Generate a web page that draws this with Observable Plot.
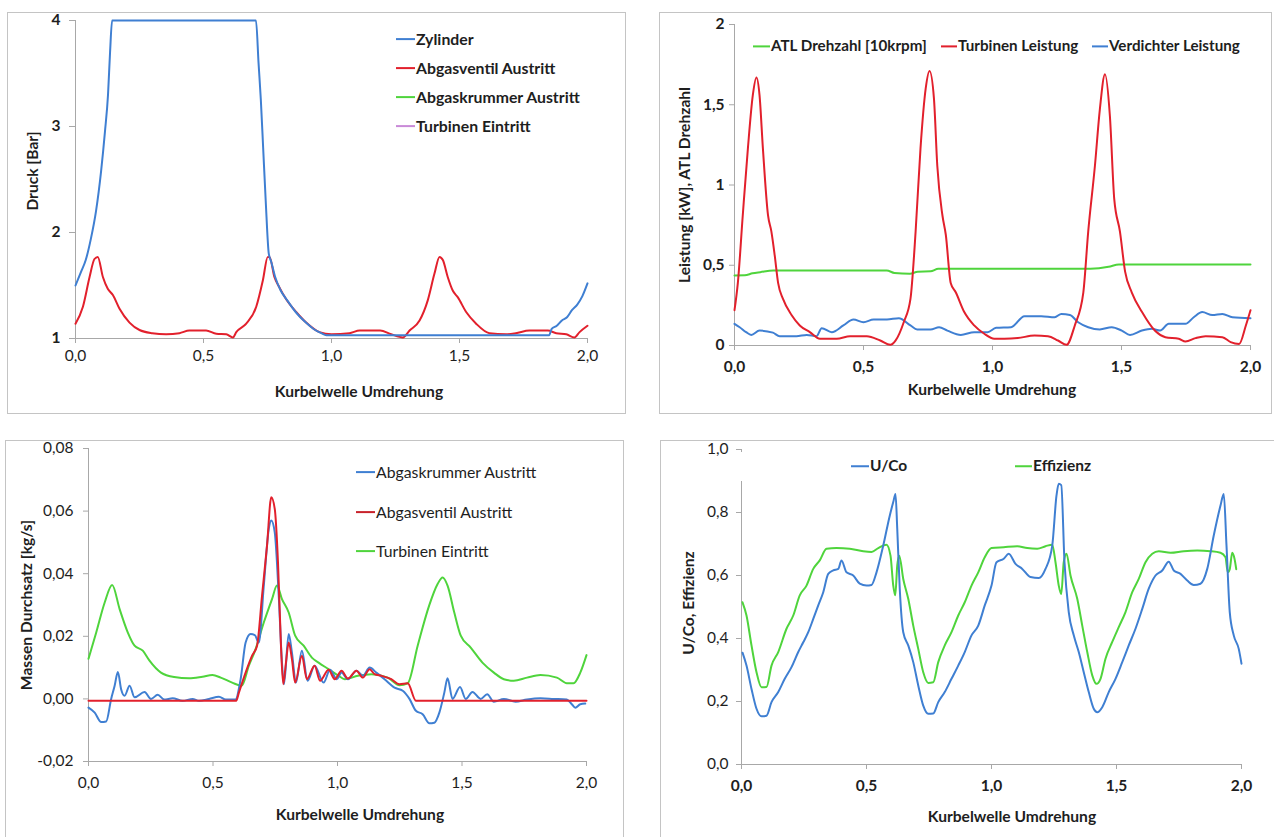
<!DOCTYPE html>
<html><head><meta charset="utf-8">
<script src="https://cdn.jsdelivr.net/npm/d3@7"></script>
<script src="https://cdn.jsdelivr.net/npm/@observablehq/plot@0.6"></script>
<style>
body{margin:0;background:#fff;}
#page{position:relative;width:1274px;height:837px;overflow:hidden;background:#fff;font-family:Lato,"Open Sans",sans-serif;color:#1e1e1e;}
.box{position:absolute;border:1px solid #c4c4c4;box-sizing:border-box;}
.wrap{position:absolute;}
.t{position:absolute;white-space:nowrap;font-size:15.6px;font-weight:bold;transform:translate(-50%,-50%);line-height:1;}
.ty{transform:translate(-50%,-50%) rotate(-90deg);}
.leg{position:absolute;white-space:nowrap;font-size:15.5px;line-height:1;transform:translateY(-50%);display:flex;align-items:center;}
.leg i{display:inline-block;height:2px;margin-right:1px;}
.legbg{position:absolute;background:#fff;}
</style></head>
<body><div id="page"></div>
<script>
// ---------- shared ----------
const xTicks = [0, 0.5, 1, 1.5, 2];
const xTickLabels = ["0,0", "0,5", "1,0", "1,5", "2,0"];
const xTitle = "Kurbelwelle Umdrehung";

// ---------- Panel 1: Druck ----------
const druckYTicks = [1, 2, 3, 4];
const druckYLabels = ["1", "2", "3", "4"];
const druckNames = ["Zylinder", "Abgasventil Austritt", "Abgaskrummer Austritt", "Turbinen Eintritt"];
const druckZylinder = [[0,1.5],[0.02,1.62],[0.04,1.74],[0.06,1.94],[0.08,2.2],[0.1,2.58],[0.115,2.95],[0.127,3.3],[0.135,3.7],[0.143,4],[0.3,4],[0.5,4],[0.705,4],[0.715,3.6],[0.724,3.25],[0.733,2.8],[0.743,2.3],[0.755,1.8],[0.765,1.72],[0.78,1.58],[0.8,1.46],[0.83,1.35],[0.86,1.25],[0.9,1.15],[0.93,1.09],[0.96,1.05],[0.98,1.03],[1.2,1.03],[1.4,1.03],[1.6,1.03],[1.85,1.03],[1.86,1.09],[1.88,1.12],[1.9,1.17],[1.92,1.2],[1.94,1.27],[1.96,1.32],[1.98,1.4],[2.0,1.52]];
const druckAbgasventil = [[0,1.14],[0.029,1.3],[0.055,1.58],[0.074,1.75],[0.087,1.77],[0.107,1.58],[0.126,1.47],[0.146,1.41],[0.172,1.28],[0.211,1.15],[0.25,1.08],[0.3,1.05],[0.354,1.04],[0.406,1.05],[0.445,1.075],[0.51,1.075],[0.55,1.045],[0.589,1.04],[0.615,1.01],[0.628,1.06],[0.667,1.14],[0.706,1.3],[0.732,1.55],[0.751,1.77],[0.758,1.77],[0.777,1.58],[0.797,1.48],[0.823,1.37],[0.862,1.25],[0.901,1.15],[0.953,1.06],[1.0,1.04],[1.07,1.05],[1.11,1.075],[1.19,1.075],[1.233,1.04],[1.279,1.01],[1.305,1.075],[1.344,1.17],[1.376,1.36],[1.402,1.61],[1.422,1.77],[1.435,1.74],[1.454,1.58],[1.474,1.45],[1.493,1.39],[1.526,1.25],[1.565,1.14],[1.617,1.05],[1.682,1.04],[1.72,1.05],[1.773,1.075],[1.845,1.075],[1.878,1.05],[1.917,1.04],[1.949,1.01],[1.969,1.06],[2.0,1.12]];

// ---------- Panel 2: Leistung ----------
const leistYTicks = [0, 0.5, 1, 1.5, 2];
const leistYLabels = ["0", "0,5", "1", "1,5", "2"];
const leistNames = ["ATL Drehzahl [10krpm]", "Turbinen Leistung", "Verdichter Leistung"];
const leistATL = [[0,0.436],[0.04,0.437],[0.07,0.45],[0.1,0.457],[0.15,0.467],[0.3,0.467],[0.5,0.467],[0.59,0.467],[0.62,0.452],[0.68,0.447],[0.71,0.46],[0.76,0.462],[0.79,0.478],[1.0,0.478],[1.2,0.478],[1.38,0.478],[1.45,0.49],[1.49,0.505],[1.7,0.505],[2.0,0.505]];
const leistTurbine = [[0,0.22],[0.013,0.39],[0.032,0.81],[0.052,1.23],[0.071,1.56],[0.085,1.67],[0.097,1.56],[0.11,1.23],[0.13,0.81],[0.143,0.71],[0.156,0.56],[0.169,0.39],[0.188,0.29],[0.221,0.19],[0.253,0.125],[0.292,0.083],[0.331,0.042],[0.396,0.042],[0.448,0.058],[0.513,0.058],[0.565,0.031],[0.604,0.004],[0.624,0.03],[0.656,0.145],[0.682,0.29],[0.702,0.71],[0.721,1.23],[0.741,1.6],[0.756,1.71],[0.773,1.54],[0.786,1.12],[0.806,0.81],[0.819,0.69],[0.838,0.39],[0.858,0.33],[0.89,0.21],[0.929,0.125],[0.968,0.073],[1.007,0.042],[1.046,0.042],[1.098,0.046],[1.163,0.062],[1.215,0.058],[1.254,0.031],[1.287,0.004],[1.319,0.125],[1.352,0.33],[1.371,0.71],[1.397,1.12],[1.416,1.47],[1.436,1.69],[1.455,1.43],[1.472,0.91],[1.494,0.71],[1.514,0.46],[1.54,0.33],[1.579,0.21],[1.631,0.09],[1.67,0.052],[1.722,0.042],[1.748,0.025],[1.787,0.046],[1.826,0.058],[1.891,0.052],[1.923,0.021],[1.956,0.01],[1.982,0.125],[2.0,0.22]];
const leistVerdichter = [[0,0.135],[0.02,0.114],[0.045,0.083],[0.065,0.066],[0.097,0.093],[0.149,0.08],[0.175,0.058],[0.24,0.058],[0.28,0.066],[0.318,0.058],[0.338,0.108],[0.377,0.083],[0.422,0.125],[0.461,0.162],[0.5,0.145],[0.539,0.162],[0.591,0.162],[0.637,0.17],[0.682,0.125],[0.708,0.1],[0.76,0.1],[0.793,0.114],[0.825,0.093],[0.877,0.066],[0.929,0.083],[0.981,0.083],[1.014,0.11],[1.072,0.114],[1.124,0.183],[1.189,0.183],[1.241,0.176],[1.267,0.197],[1.3,0.19],[1.332,0.145],[1.371,0.114],[1.416,0.1],[1.462,0.114],[1.501,0.093],[1.533,0.066],[1.579,0.093],[1.618,0.104],[1.65,0.093],[1.683,0.135],[1.748,0.135],[1.78,0.176],[1.813,0.208],[1.852,0.19],[1.891,0.197],[1.93,0.176],[2.0,0.17]];

// ---------- Panel 3: Massen Durchsatz ----------
const massYTicks = [-0.02, 0, 0.02, 0.04, 0.06, 0.08];
const massYLabels = ["-0,02", "0,00", "0,02", "0,04", "0,06", "0,08"];
const massNames = ["Abgaskrummer Austritt", "Abgasventil Austritt", "Turbinen Eintritt"];
const massTurbine = [[0,0.0128],[0.031,0.0212],[0.065,0.0308],[0.095,0.0364],[0.125,0.0287],[0.158,0.0212],[0.185,0.017],[0.218,0.0154],[0.245,0.0122],[0.291,0.0084],[0.344,0.007],[0.404,0.0066],[0.458,0.0071],[0.498,0.0076],[0.531,0.0068],[0.577,0.0052],[0.615,0.0042],[0.644,0.0106],[0.671,0.0159],[0.704,0.0244],[0.737,0.0319],[0.757,0.0362],[0.777,0.0319],[0.804,0.0276],[0.83,0.0202],[0.864,0.017],[0.897,0.0132],[0.924,0.0116],[0.964,0.0095],[1.004,0.0074],[1.029,0.0063],[1.082,0.0074],[1.136,0.0079],[1.202,0.0068],[1.249,0.0044],[1.282,0.005],[1.322,0.017],[1.368,0.0298],[1.402,0.0367],[1.422,0.0388],[1.442,0.0362],[1.469,0.0276],[1.495,0.0202],[1.535,0.0164],[1.582,0.0116],[1.628,0.0084],[1.668,0.0063],[1.708,0.0058],[1.761,0.0068],[1.815,0.0076],[1.881,0.0068],[1.921,0.005],[1.948,0.005],[1.975,0.0084],[2.0,0.014]];
const massVentil = [[0,-0.0006],[0.593,-0.0006],[0.604,0.002],[0.631,0.0084],[0.657,0.0138],[0.677,0.017],[0.697,0.033],[0.717,0.049],[0.734,0.0644],[0.748,0.0607],[0.761,0.0436],[0.773,0.017],[0.782,0.0047],[0.793,0.0116],[0.804,0.018],[0.817,0.0127],[0.83,0.0052],[0.857,0.0138],[0.877,0.0063],[0.908,0.0106],[0.93,0.0058],[0.964,0.0093],[0.989,0.0063],[1.016,0.009],[1.042,0.0065],[1.076,0.009],[1.102,0.0068],[1.129,0.0095],[1.149,0.0079],[1.176,0.0074],[1.216,0.0063],[1.249,0.0047],[1.282,0.005],[1.315,-0.0006],[2.0,-0.0006]];
const massKrummer = [[0,-0.0028],[0.025,-0.0044],[0.051,-0.0074],[0.071,-0.0072],[0.091,0],[0.105,0.0042],[0.118,0.0086],[0.131,0.0031],[0.145,0.001],[0.165,0.0042],[0.185,0.0005],[0.225,0.0022],[0.251,0],[0.278,0.0013],[0.304,-0.0002],[0.338,0.0002],[0.378,-0.0006],[0.418,0],[0.444,-0.0006],[0.484,0],[0.524,0.0007],[0.551,-0.0002],[0.59,-0.0002],[0.611,0.0063],[0.631,0.018],[0.651,0.0207],[0.668,0.0204],[0.684,0.018],[0.704,0.0362],[0.724,0.0543],[0.734,0.057],[0.748,0.0532],[0.764,0.033],[0.777,0.0116],[0.785,0.0047],[0.804,0.0207],[0.817,0.0148],[0.833,0.0052],[0.857,0.0154],[0.88,0.0058],[0.908,0.0106],[0.944,0.0052],[0.97,0.0093],[0.997,0.0063],[1.016,0.0084],[1.042,0.0063],[1.076,0.009],[1.102,0.0074],[1.129,0.01],[1.156,0.0084],[1.189,0.0063],[1.229,0.0036],[1.262,0.0026],[1.289,0],[1.315,-0.0038],[1.342,-0.0049],[1.369,-0.0078],[1.389,-0.0076],[1.409,-0.0044],[1.429,0.002],[1.442,0.0066],[1.462,0],[1.492,0.0038],[1.515,0],[1.542,0.0022],[1.575,0],[1.601,0.0015],[1.628,-0.0009],[1.668,0],[1.715,-0.0009],[1.761,-0.0002],[1.815,0.0002],[1.868,0],[1.921,-0.0002],[1.941,-0.0017],[1.955,-0.0028],[1.975,-0.0017],[1.995,-0.0015]];

// ---------- Panel 4: U/Co, Effizienz ----------
const effYTicks = [0, 0.2, 0.4, 0.6, 0.8, 1.0];
const effYLabels = ["0,0", "0,2", "0,4", "0,6", "0,8", "1,0"];
const effNames = ["U/Co", "Effizienz"];
const effUCo = [[0.004,0.355],[0.02,0.314],[0.04,0.24],[0.06,0.177],[0.08,0.153],[0.1,0.155],[0.12,0.198],[0.147,0.23],[0.173,0.272],[0.2,0.309],[0.227,0.357],[0.247,0.388],[0.267,0.42],[0.287,0.462],[0.307,0.505],[0.327,0.547],[0.347,0.605],[0.367,0.616],[0.387,0.621],[0.4,0.648],[0.42,0.61],[0.447,0.6],[0.473,0.574],[0.5,0.568],[0.52,0.57],[0.54,0.61],[0.567,0.695],[0.593,0.79],[0.607,0.833],[0.616,0.859],[0.623,0.748],[0.633,0.558],[0.647,0.42],[0.667,0.378],[0.687,0.325],[0.707,0.251],[0.727,0.187],[0.747,0.161],[0.767,0.162],[0.787,0.198],[0.813,0.23],[0.84,0.272],[0.867,0.314],[0.893,0.357],[0.92,0.41],[0.947,0.441],[0.973,0.505],[1.0,0.568],[1.02,0.642],[1.049,0.653],[1.069,0.669],[1.096,0.637],[1.123,0.621],[1.156,0.595],[1.189,0.592],[1.216,0.621],[1.243,0.695],[1.26,0.854],[1.269,0.891],[1.279,0.887],[1.292,0.642],[1.309,0.484],[1.329,0.41],[1.349,0.357],[1.369,0.293],[1.389,0.23],[1.409,0.177],[1.423,0.166],[1.443,0.182],[1.469,0.23],[1.496,0.272],[1.523,0.325],[1.549,0.378],[1.576,0.431],[1.603,0.494],[1.629,0.558],[1.656,0.6],[1.683,0.616],[1.709,0.644],[1.729,0.616],[1.756,0.605],[1.783,0.584],[1.809,0.57],[1.836,0.574],[1.863,0.621],[1.889,0.727],[1.916,0.822],[1.929,0.859],[1.94,0.695],[1.953,0.484],[1.969,0.41],[1.989,0.367],[2.0,0.32]];
const effEffizienz = [[0.004,0.515],[0.02,0.473],[0.04,0.378],[0.06,0.293],[0.08,0.245],[0.1,0.246],[0.12,0.314],[0.147,0.357],[0.18,0.431],[0.207,0.473],[0.233,0.537],[0.26,0.568],[0.287,0.621],[0.313,0.648],[0.34,0.685],[0.38,0.687],[0.433,0.685],[0.487,0.677],[0.52,0.675],[0.547,0.687],[0.58,0.698],[0.596,0.663],[0.607,0.568],[0.615,0.537],[0.623,0.632],[0.631,0.663],[0.647,0.589],[0.667,0.526],[0.687,0.441],[0.707,0.367],[0.727,0.293],[0.747,0.259],[0.767,0.261],[0.787,0.325],[0.813,0.378],[0.84,0.42],[0.867,0.473],[0.893,0.515],[0.92,0.568],[0.947,0.61],[0.973,0.658],[1.0,0.687],[1.049,0.69],[1.103,0.693],[1.143,0.687],[1.183,0.685],[1.216,0.693],[1.243,0.698],[1.256,0.642],[1.269,0.568],[1.279,0.541],[1.289,0.642],[1.3,0.669],[1.316,0.6],[1.343,0.526],[1.363,0.441],[1.383,0.357],[1.403,0.283],[1.42,0.256],[1.436,0.272],[1.456,0.336],[1.483,0.389],[1.509,0.436],[1.536,0.484],[1.563,0.547],[1.589,0.589],[1.616,0.642],[1.643,0.669],[1.669,0.677],[1.716,0.672],[1.769,0.677],[1.823,0.679],[1.876,0.677],[1.916,0.672],[1.936,0.658],[1.945,0.61],[1.953,0.62],[1.963,0.672],[1.972,0.653],[1.979,0.62]];

// ---------- styling ----------
const BLUE = "#3f7fd2", RED = "#e2202c", GREEN = "#4fd43c", PURPLE = "#c98ad8";
const AXIS = "#a8a8a8", TEXT = "#1e1e1e";
const FONT = "Lato, 'Open Sans', sans-serif";
const page = document.getElementById("page");

function el(cls, html, css) {
  const d = document.createElement("div");
  d.className = cls; d.innerHTML = html; Object.assign(d.style, css); page.appendChild(d); return d;
}

function panel(c) {
  el("box", "", {left: c.box[0]+"px", top: c.box[1]+"px", width: c.box[2]+"px", height: c.box[3]+"px"});
  const marks = [
    Plot.ruleX([0], {stroke: AXIS}),
    Plot.ruleY([c.yDomain[0]], {stroke: AXIS}),
    Plot.axisY({ticks: c.yTicks, tickFormat: d => c.yLabels[c.yTicks.indexOf(d)], tickSize: c.yTickSize, tickPadding: c.yPad,
      stroke: AXIS, fontSize: 15.5, fontWeight: c.yBold ? "bold" : "normal", label: null}),
    Plot.axisX({ticks: xTicks, tickFormat: d => xTickLabels[xTicks.indexOf(d)], tickSize: 5, tickPadding: c.xPad,
      stroke: AXIS, fontSize: 15.5, fontWeight: c.xBold ? "bold" : "normal", label: null}),
    ...c.series.map(s => Plot.line(s.data, {x: d => d[0], y: d => d[1], stroke: s.color, strokeWidth: 2, curve: "monotone-x"}))
  ];
  const svg = Plot.plot({
    width: c.svg[2], height: c.svg[3],
    marginLeft: c.m[0], marginRight: c.m[1], marginTop: c.m[2], marginBottom: c.m[3],
    x: {domain: [0, 2]}, y: {domain: c.yDomain},
    style: {fontFamily: FONT, fontSize: "15px", color: TEXT, background: "none", overflow: "visible"},
    marks
  });
  const w = el("wrap", "", {left: c.svg[0]+"px", top: c.svg[1]+"px"});
  w.appendChild(svg);
  if (c.legBg) el("legbg", "", {left: c.legBg[0]+"px", top: c.legBg[1]+"px", width: c.legBg[2]+"px", height: c.legBg[3]+"px"});
  el("t", xTitle, {left: c.xTitle[0]+"px", top: c.xTitle[1]+"px"});
  el("t ty", c.yTitle, {left: c.yTitlePos[0]+"px", top: c.yTitlePos[1]+"px"});
  c.legend.forEach(l => {
    el("leg", `<i style="width:${l.w}px;background:${l.color}"></i>${l.label}`,
      {left: l.x+"px", top: l.y+"px", fontWeight: c.legBold ? "bold" : "normal", fontSize: (c.legSize || 15.5) + "px"});
  });
}

panel({
  box: [7, 12, 619, 402], svg: [7, 12, 620, 400], m: [68, 40, 8, 74],
  yDomain: [1, 4], yTicks: druckYTicks, yLabels: druckYLabels, yTickSize: 6, yPad: 9, yBold: true,
  xPad: 6, xBold: false,
  series: [{data: druckAbgasventil, color: RED}, {data: druckZylinder, color: BLUE}],
  xTitle: [359, 392], yTitle: "Druck [Bar]", yTitlePos: [33, 171],
  legBold: true, legSize: 15.8,
  legend: [
    {x: 396, y: 39, w: 19, color: BLUE, label: druckNames[0]},
    {x: 396, y: 68, w: 19, color: RED, label: druckNames[1]},
    {x: 396, y: 97, w: 19, color: GREEN, label: druckNames[2]},
    {x: 396, y: 126, w: 19, color: PURPLE, label: druckNames[3]}
  ]
});

panel({
  box: [659, 12, 613, 402], svg: [659, 12, 613, 401], m: [75, 22, 12, 68],
  yDomain: [0, 2], yTicks: leistYTicks, yLabels: leistYLabels, yTickSize: 5, yPad: 5, yBold: true,
  xPad: 10, xBold: true,
  series: [{data: leistATL, color: GREEN}, {data: leistVerdichter, color: BLUE}, {data: leistTurbine, color: RED}],
  xTitle: [992, 390], yTitle: "Leistung [kW], ATL Drehzahl", yTitlePos: [685, 185],
  legBold: true, legSize: 15.2,
  legend: [
    {x: 753, y: 46, w: 17, color: GREEN, label: leistNames[0]},
    {x: 941, y: 46, w: 16, color: RED, label: leistNames[1]},
    {x: 1092, y: 46, w: 16, color: BLUE, label: leistNames[2]}
  ]
});

panel({
  box: [5, 440, 619, 420], svg: [5, 440, 619, 397], m: [83, 38, 8, 76],
  yDomain: [-0.02, 0.08], yTicks: massYTicks, yLabels: massYLabels, yTickSize: 5, yPad: 10, yBold: false,
  xPad: 10, xBold: false,
  series: [{data: massTurbine, color: GREEN}, {data: massKrummer, color: BLUE}, {data: massVentil, color: RED}],
  xTitle: [360, 815], yTitle: "Massen Durchsatz [kg/s]", yTitlePos: [27, 605],
  legBold: false, legSize: 15.8,
  legend: [
    {x: 356, y: 472, w: 19, color: BLUE, label: massNames[0]},
    {x: 356, y: 512, w: 19, color: "#c8222b", label: massNames[1]},
    {x: 356, y: 551, w: 19, color: GREEN, label: massNames[2]}
  ]
});

panel({
  box: [660, 440, 640, 420], svg: [660, 440, 614, 397], m: [81, 33, 9, 73],
  yDomain: [0, 1], yTicks: effYTicks, yLabels: effYLabels, yTickSize: 5, yPad: 8, yBold: false,
  xPad: 10, xBold: true,
  series: [{data: effEffizienz, color: GREEN}, {data: effUCo, color: BLUE}],
  xTitle: [1012, 817], yTitle: "U/Co, Effizienz", yTitlePos: [689, 603],
  legBg: [738, 452, 420, 29],
  legBold: true, legSize: 15.5,
  legend: [
    {x: 851, y: 466, w: 18, color: BLUE, label: effNames[0]},
    {x: 1015, y: 466, w: 17, color: GREEN, label: effNames[1]}
  ]
});
</script>
</body></html>
